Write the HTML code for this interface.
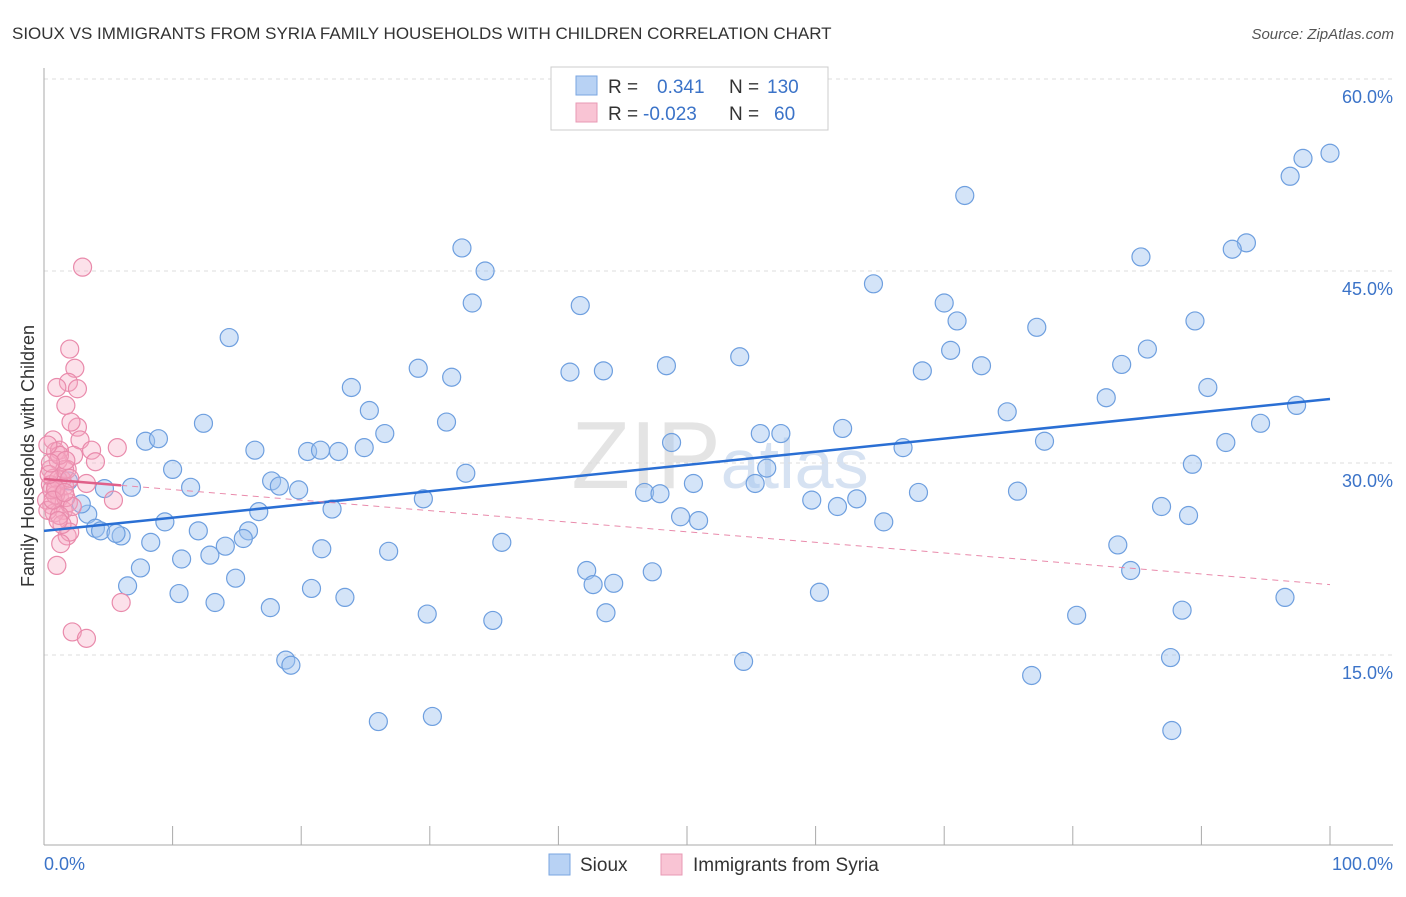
<!DOCTYPE html>
<html><head><meta charset="utf-8"><style>
body{margin:0;background:#fff;font-family:"Liberation Sans",sans-serif}
svg text{font-family:"Liberation Sans",sans-serif}
</style></head><body>
<svg width="1406" height="892" xmlns="http://www.w3.org/2000/svg">
<text x="12" y="39" font-size="17" fill="#333">SIOUX VS IMMIGRANTS FROM SYRIA FAMILY HOUSEHOLDS WITH CHILDREN CORRELATION CHART</text>
<text x="1394" y="39" font-size="15" fill="#555" text-anchor="end" font-style="italic">Source: ZipAtlas.com</text>
<text x="720" y="488" font-size="96" fill="#e4e4e4" text-anchor="middle" font-family="Liberation Serif">ZIP<tspan fill="#d6e2f2" font-size="70" font-family="Liberation Sans">atlas</tspan></text>
<g id="grid"></g>
<g id="axes"></g>
<g id="marks"></g>
<text transform="translate(34,456) rotate(-90)" font-size="18" fill="#333" text-anchor="middle">Family Households with Children</text>
<g>
<rect x="551" y="67" width="277" height="63" fill="#fff" stroke="#ccc"/>
<rect x="576" y="76" width="21" height="19" fill="#b8d2f4" stroke="#7aa6e0"/>
<rect x="576" y="103" width="21" height="19" fill="#f9c4d4" stroke="#e89ab4"/>
<text x="608" y="93" font-size="19" fill="#333">R = <tspan x="657" fill="#3b73c8">0.341</tspan><tspan x="729" fill="#333">N = </tspan><tspan x="767" fill="#3b73c8">130</tspan></text>
<text x="608" y="120" font-size="19" fill="#333">R = <tspan x="643" fill="#3b73c8">-0.023</tspan><tspan x="729" fill="#333">N = </tspan><tspan x="774" fill="#3b73c8">60</tspan></text>
</g>
<g>
<rect x="549" y="854" width="21" height="21" fill="#b8d2f4" stroke="#7aa6e0"/>
<text x="580" y="871" font-size="19" fill="#333">Sioux</text>
<rect x="661" y="854" width="21" height="21" fill="#f9c4d4" stroke="#e89ab4"/>
<text x="693" y="871" font-size="19" fill="#333">Immigrants from Syria</text>
</g>
</svg>
<script>
const yTicks=[15,30,45,60];
const yTickLabels=["15.0%","30.0%","45.0%","60.0%"];
const xTicks=[0,10,20,30,40,50,60,70,80,90,100];
const siouxX=[100,97.9,96.9,71.6,93.5,92.4,32.5,34.3,85.3,64.5,33.3,41.7,70.0,71.0,89.5,77.2,14.4,70.5,85.8,54.1,29.1,40.9,43.5,48.4,68.3,72.9,83.8,31.7,23.9,90.5,82.6,25.3,74.9,97.4,12.4,31.3,62.1,26.5,7.9,8.9,55.7,57.3,48.8,91.9,77.8,16.4,20.5,21.5,22.9,24.9,66.8,94.6,89.3,10.0,56.2,32.8,17.7,18.3,50.5,11.4,6.8,19.8,4.7,1.9,29.5,46.7,47.9,55.3,68.0,59.7,61.7,63.2,75.7,22.4,16.7,86.9,89.0,3.4,2.9,49.5,50.9,65.3,9.4,4.0,4.4,6.0,5.6,15.9,12.0,15.5,14.1,8.3,35.6,21.6,26.8,12.9,10.7,83.5,7.5,14.9,42.2,47.3,84.5,44.3,42.7,6.5,10.5,20.8,23.4,13.3,17.6,96.5,60.3,29.8,34.9,43.7,80.3,88.5,18.8,19.2,54.4,87.6,76.8,26.0,30.2,87.7];
const siouxY=[54.2,53.8,52.4,50.9,47.2,46.7,46.8,45.0,46.1,44.0,42.5,42.3,42.5,41.1,41.1,40.6,39.8,38.8,38.9,38.3,37.4,37.1,37.2,37.6,37.2,37.6,37.7,36.7,35.9,35.9,35.1,34.1,34.0,34.5,33.1,33.2,32.7,32.3,31.7,31.9,32.3,32.3,31.6,31.6,31.7,31.0,30.9,31.0,30.9,31.2,31.2,33.1,29.9,29.5,29.6,29.2,28.6,28.2,28.4,28.1,28.1,27.9,28.0,28.6,27.2,27.7,27.6,28.4,27.7,27.1,26.6,27.2,27.8,26.4,26.2,26.6,25.9,26.0,26.8,25.8,25.5,25.4,25.4,24.9,24.7,24.3,24.5,24.7,24.7,24.1,23.5,23.8,23.8,23.3,23.1,22.8,22.5,23.6,21.8,21.0,21.6,21.5,21.6,20.6,20.5,20.4,19.8,20.2,19.5,19.1,18.7,19.5,19.9,18.2,17.7,18.3,18.1,18.5,14.6,14.2,14.5,14.8,13.4,9.8,10.2,9.1];
const syriaX=[3.0,2.0,2.4,1.9,1.0,2.6,1.7,2.6,2.1,0.7,2.8,5.7,3.7,2.3,0.9,1.2,4.0,1.8,1.4,3.3,0.5,0.7,0.9,1.2,1.6,1.9,0.6,0.2,5.4,1.5,1.9,0.8,1.8,2.0,1.3,1.0,6.0,2.2,3.3,1.1,0.5,0.3,1.1,1.6,0.9,1.7,2.2,0.6,1.2,0.3,1.4,0.9,2.0,1.2,0.4,1.7,0.7,1.1,1.6,0.5];
const syriaY=[45.3,38.9,37.4,36.3,35.9,35.8,34.5,32.8,33.2,31.8,31.8,31.2,31.0,30.6,30.9,31.0,30.1,29.5,28.7,28.4,29.5,28.8,27.9,27.3,28.2,26.9,26.7,27.1,27.1,26.3,25.5,26.1,24.3,24.6,23.7,22.0,19.1,16.8,16.3,30.2,28.3,26.3,28.7,29.5,27.5,27.3,26.6,27.9,30.6,31.4,25.2,28.0,28.8,25.9,29.1,30.2,27.1,25.5,27.7,30.0];
const siouxTrend=[24.7,35.0];
const syriaTrend=[28.75,20.5];
const NS="http://www.w3.org/2000/svg";
const X=v=>44+v*12.86, Y=v=>847-v*12.8;
function mk(t,a,p){const e=document.createElementNS(NS,t);for(const k in a)e.setAttribute(k,a[k]);document.getElementById(p).appendChild(e);return e;}
yTicks.forEach((t,i)=>{
 const g=mk('line',{x1:44,x2:1393,y1:Y(t),y2:Y(t),stroke:'#ddd','stroke-dasharray':'4,4'},'grid');
 
 
 const l=mk('text',{x:1393,y:Y(t)+24,'font-size':18,fill:'#3b73c8','text-anchor':'end'},'axes');l.textContent=yTickLabels[i];
 
 
});
const ax=mk('line',{x1:44,x2:44,y1:68,y2:845,stroke:'#aaa'},'axes');


const bx=mk('line',{x1:44,x2:1393,y1:845,y2:845,stroke:'#aaa'},'axes');


xTicks.forEach(t=>{const e=mk('line',{x1:X(t),x2:X(t),y1:826,y2:845,stroke:'#aaa'},'axes');
 
 });
[["0.0%",44,'start'],["100.0%",1393,'end']].forEach(a=>{const e=mk('text',{x:a[1],y:870,'font-size':18,fill:'#3b73c8','text-anchor':a[2]},'axes');e.textContent=a[0];
 
 });
siouxX.forEach((v,i)=>{const c=mk('circle',{cx:X(v),cy:Y(siouxY[i]),r:9,fill:'rgba(160,196,240,0.45)',stroke:'#6e9fdf','stroke-width':1.2},'marks');
 
 });
syriaX.forEach((v,i)=>{const c=mk('circle',{cx:X(v),cy:Y(syriaY[i]),r:9,fill:'rgba(246,170,195,0.35)',stroke:'#e98aab','stroke-width':1.2},'marks');
 
 });
const t1=mk('line',{x1:X(0),y1:Y(siouxTrend[0]),x2:X(100),y2:Y(siouxTrend[1]),stroke:'#2a6fd4','stroke-width':2.5},'marks');


const sy=x=>syriaTrend[0]+(syriaTrend[1]-syriaTrend[0])*x/100;
const t2=mk('line',{x1:X(6),y1:Y(sy(6)),x2:X(100),y2:Y(sy(100)),stroke:'#e98aab','stroke-width':1,'stroke-dasharray':'6,5'},'marks');


const t3=mk('line',{x1:X(0),y1:Y(sy(0)),x2:X(6),y2:Y(sy(6)),stroke:'#e0608a','stroke-width':2.5},'marks');


</script>
</body></html>
